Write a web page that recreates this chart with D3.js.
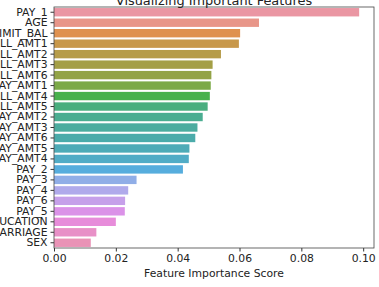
<!DOCTYPE html>
<html>
<head>
<meta charset="utf-8">
<script src="https://cdn.jsdelivr.net/npm/d3@7"></script>
<style>
  body { margin: 0; background: #fff; }
  svg { display: block; font-family: "DejaVu Sans", sans-serif; }
</style>
</head>
<body>
<script>
// Feature names (sorted by importance) and their scores
const features = ['PAY_1', 'AGE', 'LIMIT_BAL', 'BILL_AMT1', 'BILL_AMT2', 'BILL_AMT3', 'BILL_AMT6',
  'PAY_AMT1', 'BILL_AMT4', 'BILL_AMT5', 'PAY_AMT2', 'PAY_AMT3', 'PAY_AMT6', 'PAY_AMT5', 'PAY_AMT4',
  'PAY_2', 'PAY_3', 'PAY_4', 'PAY_6', 'PAY_5', 'EDUCATION', 'MARRIAGE', 'SEX'];
const scores = [0.0987, 0.0663, 0.0602, 0.0598, 0.0540, 0.0513, 0.0509,
  0.0507, 0.0504, 0.0497, 0.0481, 0.0464, 0.0457, 0.0438, 0.0436,
  0.0417, 0.0267, 0.0240, 0.0230, 0.0229, 0.0200, 0.0137, 0.0119];
const xTicks = [0, 0.02, 0.04, 0.06, 0.08, 0.10];

const data = features.map((f, i) => ({ feature: f, score: scores[i] }));

// husl palette like seaborn (husl_palette(n, l=.7) then desaturated to .75)
const M = [[3.2406, -1.5372, -0.4986], [-0.9689, 1.8758, 0.0415], [0.0557, -0.2040, 1.0570]];
const refU = 0.19784, refV = 0.46834, kappa = 903.2963, eps = 0.0088564;
function maxChroma(L, H) {
  const hr = H / 360 * 2 * Math.PI, sinH = Math.sin(hr), cosH = Math.cos(hr);
  const sub1 = Math.pow(L + 16, 3) / 1560896;
  const sub2 = sub1 > eps ? sub1 : L / kappa;
  let result = Infinity;
  M.forEach(([m1, m2, m3]) => {
    const top = (0.99915 * m1 + 1.05122 * m2 + 1.14460 * m3) * sub2;
    const rb = 0.86330 * m3 - 0.17266 * m2;
    const lb = 0.12949 * m3 - 0.38848 * m1;
    const bottom = (rb * sinH + lb * cosH) * sub2;
    [0, 1].forEach(t => {
      const C = L * (top - 1.05122 * t) / (bottom + 0.17266 * sinH * t);
      if (C > 0 && C < result) result = C;
    });
  });
  return result;
}
function huslToRgb(H, S, L) {
  const C = maxChroma(L, H) / 100 * S;
  const hr = H / 360 * 2 * Math.PI;
  const U = Math.cos(hr) * C, V = Math.sin(hr) * C;
  const varY = L > 8 ? Math.pow((L + 16) / 116, 3) : L / kappa;
  const varU = U / (13 * L) + refU, varV = V / (13 * L) + refV;
  const Y = varY;
  const X = -(9 * Y * varU) / ((varU - 4) * varV - varU * varV);
  const Z = (9 * Y - 15 * varV * Y - varV * X) / (3 * varV);
  const rgb = M.map(r => r[0] * X + r[1] * Y + r[2] * Z)
    .map(c => c <= 0.0031308 ? 12.92 * c : 1.055 * Math.pow(c, 1 / 2.4) - 0.055)
    .map(c => Math.max(0, Math.min(1, c)) * 255);
  return d3.rgb(rgb[0], rgb[1], rgb[2]);
}
const n = features.length;
const palette = d3.range(n).map(i => {
  const h = ((i / n + 0.01) % 1) * 359;
  const c = d3.hsl(huslToRgb(h, 0.9 * 99, 0.7 * 99));
  c.s *= 0.75;
  return c.formatHex();
});
const color = d3.scaleOrdinal().domain(features).range(palette);

const width = 379, height = 287;
const margin = { top: 7, right: 5, bottom: 39, left: 54 };
const innerW = width - margin.left - margin.right;
const innerH = height - margin.top - margin.bottom;
const tickFont = '10.8px';

const svg = d3.select('body').append('svg')
  .attr('width', width)
  .attr('height', height);

const g = svg.append('g')
  .attr('transform', 'translate(' + margin.left + ',' + margin.top + ')');

const x = d3.scaleLinear().domain([0, 0.1035]).range([0, innerW]);
const y = d3.scaleBand().domain(features).range([0, innerH]).paddingInner(0.2).paddingOuter(0.1);

// bars
g.selectAll('.bar')
  .data(data)
  .enter().append('rect')
  .attr('class', 'bar')
  .attr('x', 0)
  .attr('y', d => y(d.feature))
  .attr('width', d => x(d.score))
  .attr('height', y.bandwidth())
  .attr('fill', d => color(d.feature));

// x axis
const xAxis = g.append('g')
  .attr('transform', 'translate(0,' + innerH + ')')
  .call(d3.axisBottom(x).tickValues(xTicks).tickFormat(d3.format('.2f')).tickSize(3.5).tickPadding(3));
xAxis.select('.domain').remove();
xAxis.selectAll('text').attr('font-size', tickFont).attr('fill', '#222').attr('font-family', 'DejaVu Sans');
xAxis.selectAll('line').attr('stroke', '#333');

// y axis
const yAxis = g.append('g')
  .call(d3.axisLeft(y).tickSize(3.5).tickPadding(3));
yAxis.select('.domain').remove();
yAxis.selectAll('text').attr('font-size', tickFont).attr('fill', '#222').attr('font-family', 'DejaVu Sans');
yAxis.selectAll('line').attr('stroke', '#333');

// frame
g.append('rect')
  .attr('width', innerW)
  .attr('height', innerH)
  .attr('fill', 'none')
  .attr('stroke', '#444')
  .attr('stroke-width', 0.8);

// title
svg.append('text')
  .attr('x', margin.left + innerW / 2)
  .attr('y', 5)
  .attr('text-anchor', 'middle')
  .attr('font-size', '12.9px')
  .attr('fill', '#222')
  .text('Visualizing Important Features');

// x label
svg.append('text')
  .attr('x', margin.left + innerW / 2)
  .attr('y', 277)
  .attr('text-anchor', 'middle')
  .attr('font-size', tickFont)
  .attr('fill', '#222')
  .text('Feature Importance Score');
</script>
</body>
</html>
